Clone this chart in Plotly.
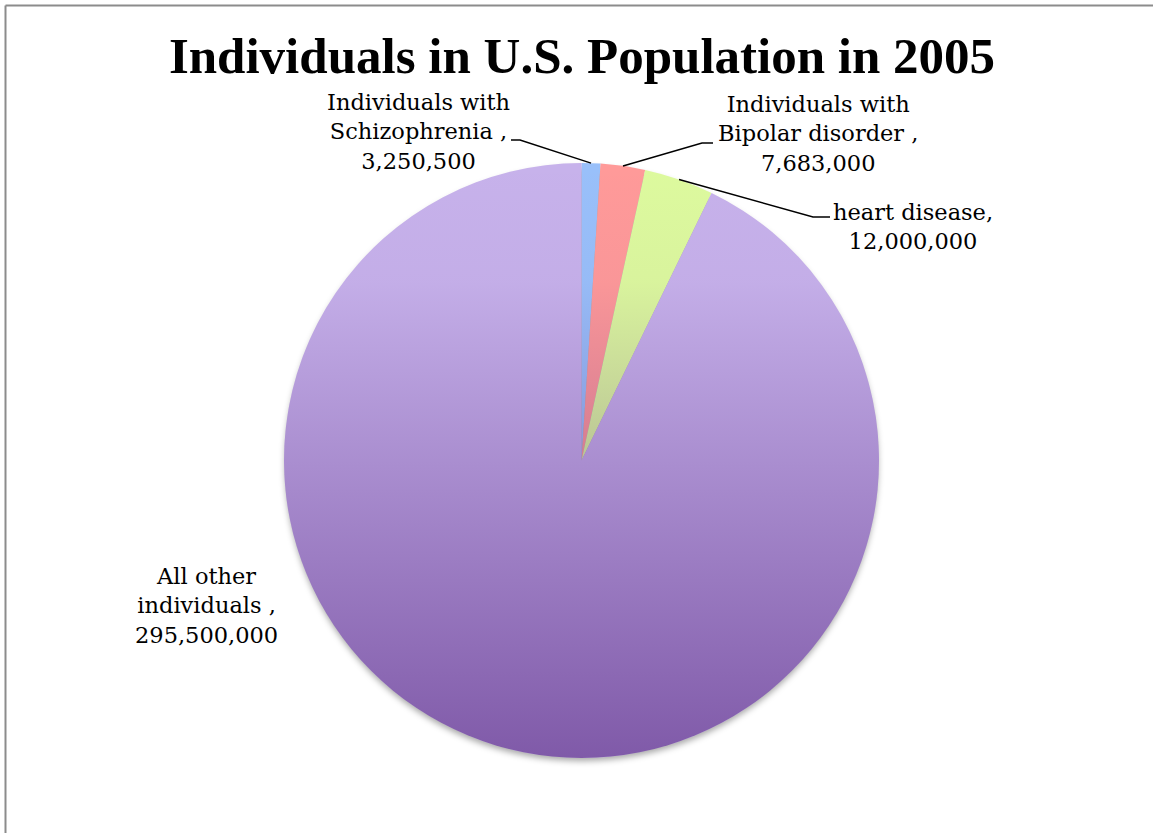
import math
import base64
import plotly.graph_objects as go

# ---- data ----
categories = ["Individuals with Schizophrenia ", "Individuals with Bipolar disorder ",
              "heart disease", "All other individuals "]
values = [3250500, 7683000, 12000000, 295500000]
top_colors = ["#99C0FA", "#FF9A99", "#DDFA9E", "#C7B2EB"]
title_text = "Individuals in U.S. Population in 2005"

# ---- layout constants (pixels) ----
W, H = 1153, 833
CX, CY, R = 581.5, 460.5, 297.5
# label block centers and leader elbows (pixel coords)
label_pos = [(418, 131), (818, 133), (913, 226), (206, 605)]
elbows = [[(520, 140), (511, 140)], [(702, 143), (713, 143)], [(813, 217), (830, 217)], None]


def px(x):
    return x / W


def py(y):
    return 1 - y / H


def wrap(c):
    return c.replace("with ", "with<br>").replace("other ", "other<br>")


fig = go.Figure()
fig.add_trace(go.Pie(
    labels=categories, values=values, sort=False, direction="clockwise", rotation=0,
    marker=dict(colors=top_colors, line=dict(width=0)),
    textinfo="none", hoverinfo="label+value", showlegend=False,
    domain=dict(x=[px(CX - R), px(CX + R)], y=[py(CY + R), py(CY - R)]),
))

total = sum(values)
shapes = []
annotations = []
cum = 0
for i, (cat, v) in enumerate(zip(categories, values)):
    mid = (cum + v / 2) / total * 2 * math.pi
    cum += v
    tipx = CX + R * math.sin(mid)
    tipy = CY - R * math.cos(mid)
    lx, ly = label_pos[i]
    annotations.append(dict(
        x=px(lx), y=py(ly), xref="paper", yref="paper", showarrow=False,
        text=wrap(cat) + ",<br>" + f"{v:,}", align="center",
        font=dict(family="DejaVu Serif", size=22.5, color="#000000"),
        xanchor="center", yanchor="middle",
    ))
    if elbows[i]:
        (ex, ey), (hx, hy) = elbows[i]
        path = f"M {px(tipx)},{py(tipy)} L {px(ex)},{py(ey)} L {px(hx)},{py(hy)}"
        shapes.append(dict(type="path", xref="paper", yref="paper", path=path,
                           line=dict(color="#000000", width=1.5)))

# frame
shapes.append(dict(type="line", xref="paper", yref="paper", x0=px(5.5), x1=1, y0=py(5.5), y1=py(5.5),
                   line=dict(color="#8C8C8C", width=2)))
shapes.append(dict(type="line", xref="paper", yref="paper", x0=px(5.5), x1=px(5.5), y0=py(5.5), y1=0,
                   line=dict(color="#8C8C8C", width=2)))

# gradient shading overlay (Excel-style vertical gradient) and soft shadow
d = 2 * R
grad_svg = (
    f"<svg xmlns='http://www.w3.org/2000/svg' width='{d}' height='{d}' viewBox='0 0 {d} {d}'>"
    "<defs><linearGradient id='g' x1='0' y1='0' x2='0' y2='1'>"
    "<stop offset='0' stop-color='rgb(80,31,124)' stop-opacity='0'/>"
    "<stop offset='0.2' stop-color='rgb(80,31,124)' stop-opacity='0.03'/>"
    "<stop offset='1' stop-color='rgb(80,31,124)' stop-opacity='0.6'/>"
    "</linearGradient></defs>"
    f"<circle cx='{R}' cy='{R}' r='{R}' fill='url(#g)'/></svg>"
)
pad = 20
ds = d + 2 * pad
shadow_svg = (
    f"<svg xmlns='http://www.w3.org/2000/svg' width='{ds}' height='{ds}' viewBox='0 0 {ds} {ds}'>"
    "<defs><filter id='b' x='-10%' y='-10%' width='120%' height='120%'>"
    "<feGaussianBlur stdDeviation='3'/></filter></defs>"
    f"<circle cx='{R + pad}' cy='{R + pad + 4}' r='{R - 1}' fill='rgba(0,0,0,0.35)' filter='url(#b)'/></svg>"
)


def uri(s):
    return "data:image/svg+xml;base64," + base64.b64encode(s.encode()).decode()


images = [
    dict(source=uri(shadow_svg), xref="paper", yref="paper", x=px(CX - R - pad), y=py(CY - R - pad),
         sizex=ds / W, sizey=ds / H, xanchor="left", yanchor="top", sizing="stretch", layer="below"),
    dict(source=uri(grad_svg), xref="paper", yref="paper", x=px(CX - R), y=py(CY - R),
         sizex=d / W, sizey=d / H, xanchor="left", yanchor="top", sizing="stretch", layer="above"),
]

fig.update_layout(
    width=W, height=H, margin=dict(l=0, r=0, t=0, b=0),
    paper_bgcolor="#FFFFFF", plot_bgcolor="#FFFFFF",
    title=dict(text="<b>" + title_text + "</b>", x=px(582), xanchor="center", y=py(55), yanchor="middle",
               font=dict(family="Liberation Serif", size=51, color="#000000")),
    shapes=shapes, annotations=annotations, images=images,
)

fig.write_html("out.html")
